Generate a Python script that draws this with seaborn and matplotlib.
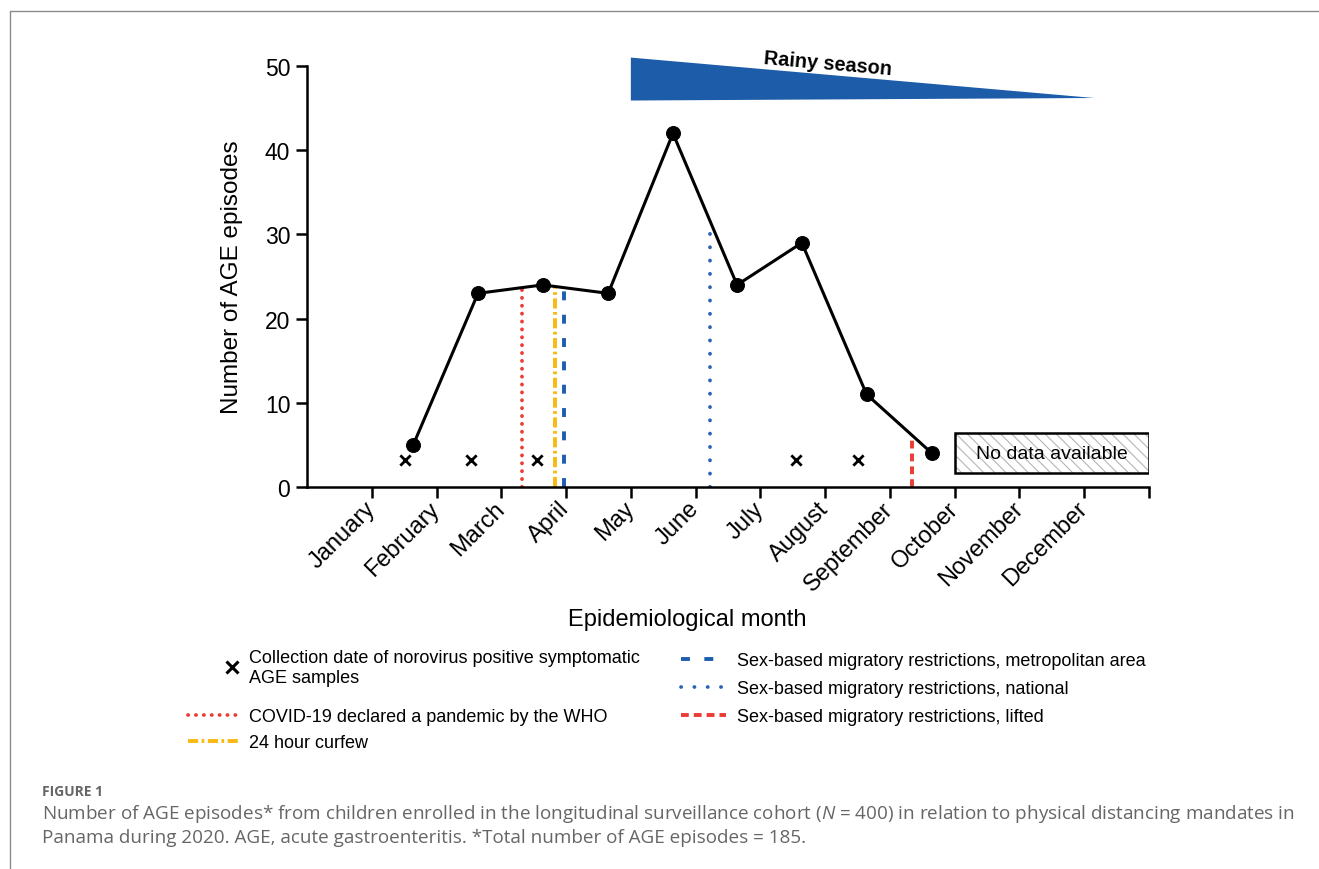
import numpy as np
import pandas as pd
import seaborn as sns
import matplotlib.pyplot as plt
from matplotlib.lines import Line2D
from matplotlib.patches import Polygon, Rectangle
from matplotlib.legend_handler import HandlerLine2D

sns.set_style("ticks")
plt.rcParams['font.family'] = ['Liberation Sans', 'DejaVu Sans']
plt.rcParams['text.color'] = 'black'
plt.rcParams['axes.labelcolor'] = 'black'
plt.rcParams['xtick.color'] = 'black'
plt.rcParams['ytick.color'] = 'black'
plt.rcParams['axes.edgecolor'] = 'black'
plt.rcParams['hatch.color'] = '#b5b5b5'
plt.rcParams['hatch.linewidth'] = 0.8
plt.rcParams['mathtext.fontset'] = 'custom'
plt.rcParams['mathtext.it'] = 'Open Sans:italic'
plt.rcParams['mathtext.rm'] = 'Open Sans'

months = ["January", "February", "March", "April", "May", "June", "July",
          "August", "September", "October", "November", "December"]

# AGE episodes per epidemiological month
episode_x = [1.64, 2.64, 3.64, 4.65, 5.65, 6.64, 7.64, 8.64, 9.65]
episodes = [5, 23, 24, 23, 42, 24, 29, 11, 4]

# norovirus positive sample collection dates
noro_x = [1.52, 2.53, 3.55, 7.55, 8.50]
noro_y = [3.2, 3.2, 3.2, 3.2, 3.2]

# physical distancing events
event_x = [3.32, 3.83, 3.97, 6.22, 9.34]
event_labels = ["COVID-19 declared a pandemic by the WHO",
                "24 hour curfew",
                "Sex-based migratory restrictions, metropolitan area",
                "Sex-based migratory restrictions, national",
                "Sex-based migratory restrictions, lifted"]
event_colors = ["#ec3b33", "#f8b912", "#1d5db0", "#2a62b4", "#ec3b33"]
event_styles = [(0, (0.05, 2.05)), (0, (2.6, 0.9, 0.7, 0.9)), (0, (2.3, 3.7)),
                (0, (0.05, 3.5)), (0, (2.0, 1.3))]
event_caps = ["round", "butt", "butt", "round", "butt"]
event_lw = [2.7, 2.8, 2.8, 2.7, 2.8]


class RightMarker(HandlerLine2D):
    # put the single marker at the right end of the handle box
    def get_xdata(self, legend, xdescent, ydescent, width, height, fontsize):
        xm = width - xdescent - 0.35 * fontsize
        return np.array([xm]), np.array([xm])


def event_handle(i):
    return Line2D([], [], color=event_colors[i], ls=event_styles[i],
                  lw=event_lw[i], dash_capstyle=event_caps[i])


df = pd.DataFrame({"x": episode_x, "y": episodes})
noro = pd.DataFrame({"x": noro_x, "y": noro_y})

fig = plt.figure(figsize=(13.19, 8.7), dpi=100)
ax = fig.add_axes([307 / 1319, 1 - 488 / 870, (1149 - 307) / 1319, (488 - 67) / 870])

# event lines stop at the episode curve
for i, xv in enumerate(event_x):
    top = np.interp(xv, episode_x, episodes)
    ax.plot([xv, xv], [0, top], color=event_colors[i], ls=event_styles[i],
            lw=event_lw[i], dash_capstyle=event_caps[i], zorder=2)

sns.lineplot(data=df, x="x", y="y", ax=ax, color="black", lw=2.2,
             marker="o", markersize=10, markeredgecolor="black", zorder=3)
sns.scatterplot(data=noro, x="x", y="y", ax=ax, marker="x", s=55,
                color="black", linewidth=2, zorder=3)

# no data box
ax.add_patch(Rectangle((10.0, 1.66), 3.0, 4.74, facecolor="white",
                       edgecolor="#b5b5b5", lw=0, hatch="\\\\\\", zorder=2))
ax.add_patch(Rectangle((10.0, 1.66), 3.0, 4.74, facecolor="none",
                       edgecolor="black", lw=1.8, zorder=2))
ax.text(11.5, 4.03, "No data available", ha="center", va="center",
        fontsize=14, zorder=4)

# rainy season wedge
wedge = Polygon([(5.0, 45.9), (5.0, 51.0), (12.15, 46.2)], closed=True,
                facecolor="#1c5ca8", edgecolor="none", clip_on=False)
ax.add_patch(wedge)
ax.text(8.04, 50.3, "Rainy season", ha="center", va="center", fontsize=14.3,
        fontweight="bold", rotation=-5, clip_on=False)

ax.set_xlim(0, 13)
ax.set_ylim(0, 50)
ax.set_xticks(range(1, 14))
ax.set_xticklabels(months + [""], rotation=45, ha="right", va="center",
                   rotation_mode="anchor", fontsize=17)
ax.set_yticks(range(0, 51, 10))
ax.tick_params(axis="y", labelsize=16.5, width=1.8, length=8, pad=4)
ax.tick_params(axis="x", width=1.8, length=8, pad=5)
for s in ["left", "bottom"]:
    ax.spines[s].set_linewidth(1.8)
sns.despine(ax=ax)
ax.set_xlabel("Epidemiological month", fontsize=17)
ax.xaxis.set_label_coords((687 - 307) / 842, (488 - 609) / 421)
ax.set_ylabel("Number of AGE episodes", fontsize=17.5, labelpad=16)

# legend, left column
h_noro = Line2D([], [], ls="none", marker="x", color="black",
                markersize=8, mew=2.2)
leg_kw = dict(loc="upper left", frameon=False, fontsize=13, handletextpad=0.6,
              borderpad=0, borderaxespad=0)
leg1 = fig.legend([h_noro],
                  ["Collection date of norovirus positive symptomatic\nAGE samples"],
                  bbox_to_anchor=(188 / 1319, 1 - 650 / 870), handlelength=2.8,
                  handler_map={h_noro: RightMarker()}, **leg_kw)
leg1b = fig.legend([event_handle(0), event_handle(1)], event_labels[:2],
                   bbox_to_anchor=(188 / 1319, 1 - 709 / 870), handlelength=2.8,
                   labelspacing=0.5, **leg_kw)
# legend, right column
leg2 = fig.legend([event_handle(i) for i in (2, 3, 4)], event_labels[2:],
                  bbox_to_anchor=(681 / 1319, 1 - 653 / 870), handlelength=2.5,
                  labelspacing=0.62, **leg_kw)

# frame of the figure panel
fig.add_artist(Line2D([10 / 1319, 10 / 1319], [0, 1 - 12 / 870],
                      transform=fig.transFigure, color="#8a8a8a", lw=1))
fig.add_artist(Line2D([10 / 1319, 1], [1 - 12 / 870, 1 - 12 / 870],
                      transform=fig.transFigure, color="#8a8a8a", lw=1))

# caption
fig.text(42 / 1319, 1 - 792 / 870, "FIGURE 1", fontsize=10, color="#666666",
         family="Open Sans", fontweight="bold", va="center")
fig.text(42 / 1319, 1 - 814 / 870,
         r"Number of AGE episodes* from children enrolled in the longitudinal "
         r"surveillance cohort ($\it{N}$ = 400) in relation to physical distancing mandates in",
         fontsize=13.6, color="#666666", family="Open Sans", va="center")
fig.text(42 / 1319, 1 - 838 / 870,
         "Panama during 2020. AGE, acute gastroenteritis. *Total number of AGE episodes = 185.",
         fontsize=13.6, color="#666666", family="Open Sans", va="center")

fig.savefig("out.png", dpi=100)
